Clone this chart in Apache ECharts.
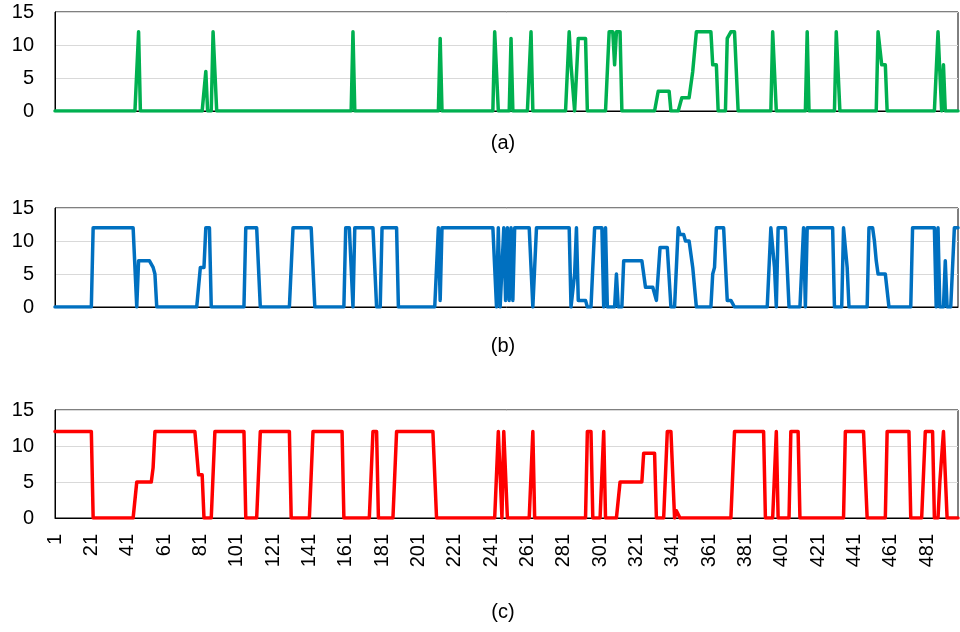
<!DOCTYPE html>
<html><head><meta charset="utf-8">
<script src="https://cdn.jsdelivr.net/npm/echarts@6/dist/echarts.min.js"></script>
<style>html,body{margin:0;padding:0;background:#fff}#c{width:960px;height:632px}</style>
</head><body><div id="c"></div>
<script>
// number of samples along the x axis
const N = 498;
// category labels 1..N
const categories = [];
for (let i = 1; i <= N; i++) categories.push(String(i));
const yTicks = [0, 5, 10, 15];
const panelLabels = ['(a)', '(b)', '(c)'];

// values, stored as runs: [value, number of consecutive samples]
const runsA = [[0,46],[12,1],[0,36],[6,1],[0,3],[12,2],[0,75],[12,1],[0,47],[11,1],[0,29],[12,2],[0,7],[11,1],[0,10],[12,1],[0,20],[12,1],[7,2],[0,2],[11,5],[0,12],[12,3],[7,1],[12,3],[0,20],[3,7],[0,6],[2,6],[6,2],[12,9],[7,3],[0,5],[11,2],[12,4],[0,19],[12,2],[0,17],[12,1],[0,15],[12,2],[0,21],[12,2],[7,3],[0,28],[12,2],[0,1],[7,1],[0,8]];
const runsB = [[0,21],[12,24],[0,1],[7,8],[6,1],[5,1],[0,24],[6,3],[12,3],[0,19],[12,8],[0,18],[12,12],[0,17],[12,4],[0,1],[12,12],[0,3],[12,9],[0,22],[12,1],[1,1],[12,30],[0,1],[12,1],[0,2],[12,1],[1,1],[12,1],[1,1],[12,1],[1,1],[12,10],[0,2],[12,19],[0,2],[5,1],[12,1],[1,5],[0,4],[12,5],[0,1],[12,1],[0,5],[5,1],[0,3],[7,12],[3,6],[1,2],[9,6],[0,4],[12,1],[11,3],[10,4],[6,2],[0,9],[5,1],[6,1],[12,6],[1,4],[0,20],[12,2],[6,1],[0,1],[12,6],[0,8],[12,1],[0,1],[12,15],[0,5],[12,2],[6,1],[0,11],[12,3],[10,1],[7,1],[5,6],[0,13],[12,13],[0,1],[12,1],[0,3],[7,1],[0,4],[12,3]];
const runsC = [[12,21],[0,24],[5,9],[7,1],[12,24],[6,3],[0,6],[12,17],[0,8],[12,17],[0,12],[12,17],[0,16],[12,3],[0,10],[12,22],[0,34],[12,2],[0,1],[12,2],[0,14],[12,1],[0,29],[12,3],[0,6],[12,1],[0,8],[5,13],[9,7],[0,6],[12,4],[0,1],[1,2],[0,30],[12,17],[0,6],[12,1],[0,7],[12,5],[0,25],[12,12],[0,11],[12,13],[0,8],[12,5],[0,3],[5,2],[12,2],[0,7]];

function expand(runs) {
  const out = [];
  runs.forEach(([v, n]) => { for (let k = 0; k < n; k++) out.push(v); });
  return out;
}
const seriesA = expand(runsA);
const seriesB = expand(runsB);
const seriesC = expand(runsC);

const FONT = 'Liberation Sans, Arial, sans-serif';
const colors = ['#00B050', '#0070C0', '#FF0000'];
const grids = [
  {left: 55, right: 2, top: 12, height: 99},
  {left: 55, right: 2, top: 208, height: 99},
  {left: 55, right: 2, top: 410, height: 108}
];
const labelY = [143, 346, 612];

const chart = echarts.init(document.getElementById('c'), null, {renderer: 'canvas'});
const option = {
  animation: false,
  backgroundColor: '#fff',
  grid: grids.map(g => Object.assign({show: true, borderColor: '#000', borderWidth: 1, containLabel: false}, g)),
  xAxis: [0, 1, 2].map(i => ({
    type: 'category', gridIndex: i, data: categories, boundaryGap: false,
    axisLine: {show: true, lineStyle: {color: '#000', width: 1}},
    axisTick: {show: false},
    axisLabel: i === 2 ? {show: true, interval: 19, rotate: 90, fontSize: 20, color: '#000', fontFamily: FONT, margin: 16} : {show: false},
    splitLine: {show: false}
  })),
  yAxis: [0, 1, 2].map(i => ({
    type: 'value', gridIndex: i, min: yTicks[0], max: yTicks[yTicks.length - 1], interval: 5,
    axisLine: {show: true, lineStyle: {color: '#000', width: 1}},
    axisTick: {show: false},
    axisLabel: {fontSize: 20, color: '#000', fontFamily: FONT, margin: 21},
    splitLine: {show: true, lineStyle: {color: '#d9d9d9', width: 1}}
  })),
  series: [seriesA, seriesB, seriesC].map((d, i) => ({
    type: 'line', xAxisIndex: i, yAxisIndex: i, data: d,
    showSymbol: false, symbol: 'none',
    lineStyle: {color: colors[i], width: 3.5, join: 'round', cap: 'round'},
    itemStyle: {color: colors[i]}
  })),
  graphic: panelLabels.map((t, i) => ({
    type: 'text', x: 503, y: labelY[i],
    style: {text: t, fontSize: 20, fontFamily: FONT, fill: '#000', textAlign: 'center', textVerticalAlign: 'middle'}
  }))
};
chart.setOption(option);
</script>
</body></html>
